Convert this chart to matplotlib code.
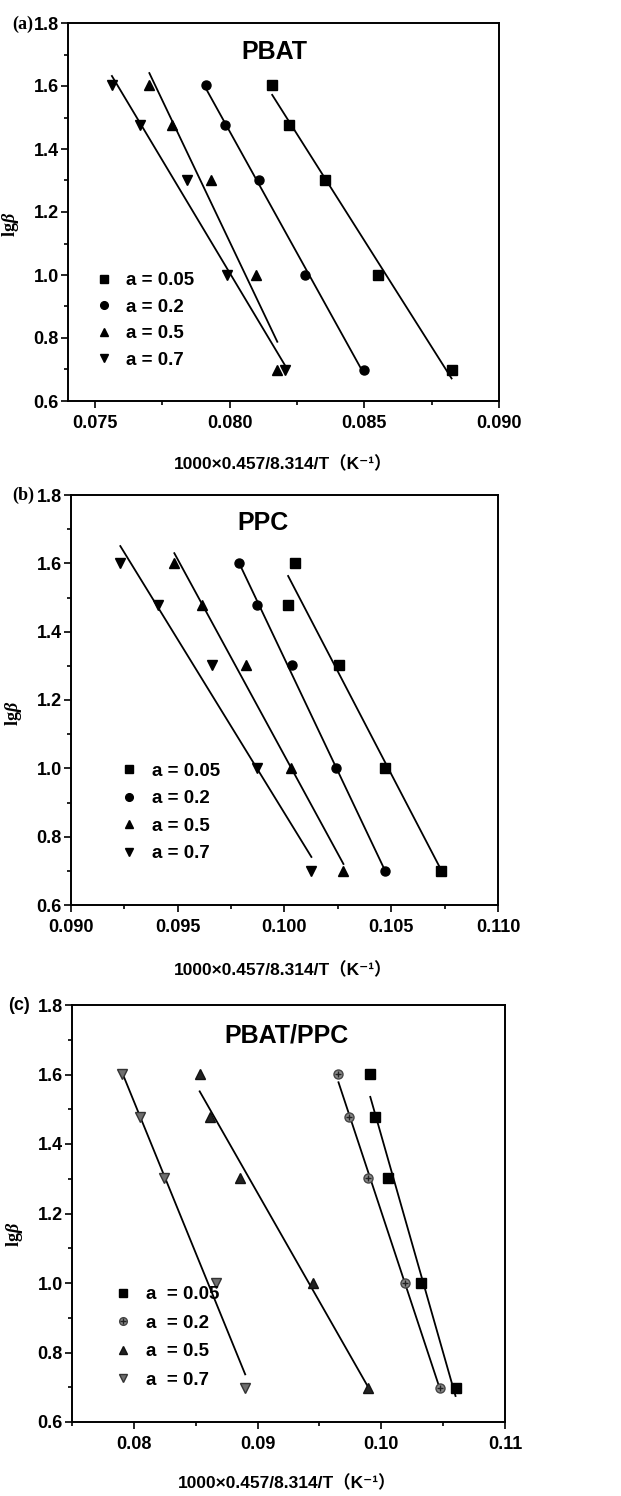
import numpy as np
import matplotlib
matplotlib.use('Agg')
import matplotlib.pyplot as plt
from matplotlib.ticker import MultipleLocator, FormatStrFormatter

plt.rcParams['font.family'] = ['Liberation Sans', 'Noto Sans CJK SC', 'DejaVu Sans']
plt.rcParams['font.weight'] = 'bold'
plt.rcParams['axes.labelweight'] = 'bold'
plt.rcParams['mathtext.fontset'] = 'custom'
plt.rcParams['mathtext.it'] = 'Liberation Serif:italic:bold'
plt.rcParams['mathtext.rm'] = 'Liberation Serif:bold'

# lg(beta) for heating rates 5, 10, 20, 30, 40 K/min
lg_beta = [0.699, 1.0, 1.301, 1.477, 1.602]
labels = ['a = 0.05', 'a = 0.2', 'a = 0.5', 'a = 0.7']
labels_c = ['a  = 0.05', 'a  = 0.2', 'a  = 0.5', 'a  = 0.7']

# x = 1000*0.457/8.314/T, same order as lg_beta
pbat_005 = [0.08824, 0.08550, 0.08354, 0.08221, 0.08158]
pbat_02 = [0.08498, 0.08280, 0.08108, 0.07981, 0.07911]
pbat_05 = [0.08177, 0.08097, 0.07931, 0.07787, 0.07702]
pbat_07 = [0.08204, 0.07991, 0.07843, 0.07669, 0.07563]

ppc_005 = [0.10735, 0.10473, 0.10256, 0.10017, 0.10050]
ppc_02 = [0.10470, 0.10239, 0.10033, 0.09872, 0.09785]
ppc_05 = [0.10276, 0.10030, 0.09819, 0.09613, 0.09484]
ppc_07 = [0.10126, 0.09869, 0.09661, 0.09406, 0.09231]

blend_005 = [0.10600, 0.10324, 0.10054, 0.09946, 0.09911]
blend_02 = [0.10478, 0.10189, 0.09892, 0.09738, 0.09654]
blend_05 = [0.09892, 0.09451, 0.08857, 0.08614, 0.08532]
blend_07 = [0.08900, 0.08662, 0.08243, 0.08049, 0.07905]

W, H = 621, 1496
fig = plt.figure(figsize=(W / 100, H / 100), dpi=100)


def make_axes(l, r, t, b):
    return fig.add_axes([l / W, 1 - b / H, (r - l) / W, (b - t) / H])


def style(ax, xlim, xmaj, fmt):
    ax.set_xlim(*xlim)
    ax.set_ylim(0.6, 1.8)
    ax.xaxis.set_major_locator(MultipleLocator(xmaj))
    ax.xaxis.set_minor_locator(MultipleLocator(xmaj / 2))
    ax.xaxis.set_major_formatter(FormatStrFormatter(fmt))
    ax.yaxis.set_major_locator(MultipleLocator(0.2))
    ax.yaxis.set_minor_locator(MultipleLocator(0.1))
    ax.yaxis.set_major_formatter(FormatStrFormatter('%.1f'))
    ax.tick_params(which='both', direction='out', top=False, right=False, width=1.2)
    ax.tick_params(which='major', length=5, labelsize=13, pad=1.5)
    ax.tick_params(which='minor', length=3)
    ax.tick_params(axis='x', pad=5)
    for s in ax.spines.values():
        s.set_linewidth(1.4)
    ax.set_ylabel(r'lg$\beta$', fontsize=13, family='Liberation Serif')
    ax.set_xlabel('1000×0.457/8.314/T（K⁻¹）', fontsize=12.5)


def fit_line(ax, x):
    k, b = np.polyfit(x, lg_beta, 1)
    xx = np.array([min(x), max(x)])
    ax.plot(xx, k * xx + b, color='black', lw=1.3, zorder=1)


# ---- (a) PBAT
ax = make_axes(68, 499, 23, 401)
markers = ['s', 'o', '^', 'v']
for x, m, lab in zip([pbat_005, pbat_02, pbat_05, pbat_07], markers, labels):
    ax.plot(x, lg_beta, ls='none', marker=m, ms=6.5, color='black', label=lab, zorder=3)
    fit_line(ax, x)
style(ax, (0.074, 0.090), 0.005, '%.3f')
ax.text(0.478, 0.923, 'PBAT', transform=ax.transAxes, ha='center', va='center', fontsize=18)
ax.legend(loc='upper left', bbox_to_anchor=(0.039, 0.366), frameon=False, fontsize=13.5,
          handlelength=1.0, handletextpad=0.7, labelspacing=0.5, borderpad=0, markerscale=0.85)
ax.yaxis.set_label_coords(-0.109, 0.466)
ax.xaxis.set_label_coords(0.499, -0.145)
fig.text(12 / W, 1 - 24 / H, '(a)', family='Liberation Serif', fontsize=13, va='center')

# ---- (b) PPC
ax = make_axes(71, 498, 495, 905)
for x, m, lab in zip([ppc_005, ppc_02, ppc_05, ppc_07], markers, labels):
    ax.plot(x, lg_beta, ls='none', marker=m, ms=6.5, color='black', label=lab, zorder=3)
    fit_line(ax, x)
style(ax, (0.090, 0.110), 0.005, '%.3f')
ax.text(0.45, 0.932, 'PPC', transform=ax.transAxes, ha='center', va='center', fontsize=18)
ax.legend(loc='upper left', bbox_to_anchor=(0.092, 0.37), frameon=False, fontsize=13.5,
          handlelength=1.0, handletextpad=0.7, labelspacing=0.55, borderpad=0, markerscale=0.85)
ax.yaxis.set_label_coords(-0.109, 0.466)
ax.xaxis.set_label_coords(0.497, -0.139)
fig.text(12 / W, 1 - 495 / H, '(b)', family='Liberation Serif', fontsize=13, va='center')

# ---- (c) PBAT/PPC
ax = make_axes(72, 505, 1005, 1422)
h1, = ax.plot(blend_005, lg_beta, ls='none', marker='s', ms=6.5, color='black', zorder=3)
h2a, = ax.plot(blend_02, lg_beta, ls='none', marker='o', ms=6.5, mfc='#8a8a8a', mec='#444444', zorder=3)
h2b, = ax.plot(blend_02, lg_beta, ls='none', marker='+', ms=5, mec='#222222', mew=1.0, zorder=4)
h3, = ax.plot(blend_05, lg_beta, ls='none', marker='^', ms=6.5, mfc='#222222', mec='#111111', zorder=3)
h4, = ax.plot(blend_07, lg_beta, ls='none', marker='v', ms=6.5, mfc='#6e6e6e', mec='#333333', zorder=3)
for x in [blend_005, blend_02, blend_05, blend_07]:
    fit_line(ax, x)
style(ax, (0.075, 0.110), 0.01, '%.2f')
ax.text(0.495, 0.928, 'PBAT/PPC', transform=ax.transAxes, ha='center', va='center', fontsize=18)
ax.legend([h1, (h2a, h2b), h3, h4], labels_c, loc='upper left', bbox_to_anchor=(0.075, 0.348),
          frameon=False, fontsize=13.5, handlelength=1.0, handletextpad=0.7, labelspacing=0.6,
          borderpad=0, markerscale=0.85)
ax.yaxis.set_label_coords(-0.109, 0.45)
ax.xaxis.set_label_coords(0.497, -0.125)
fig.text(8 / W, 1 - 1005 / H, '(c)', family='Liberation Sans', fontsize=13, va='center')

fig.savefig('out.png', dpi=100)
